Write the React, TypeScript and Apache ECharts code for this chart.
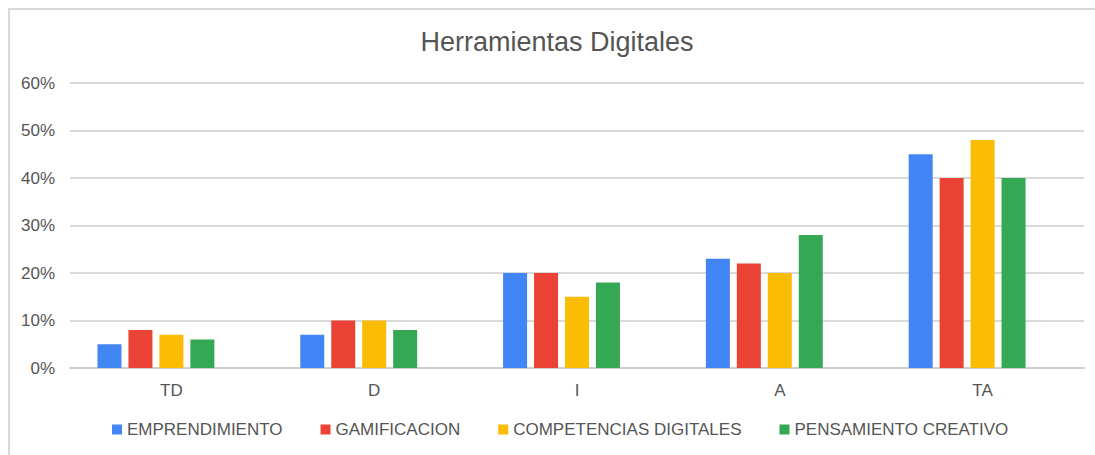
import React, { useEffect, useRef } from "react";
import * as echarts from "echarts";

const categories = ["TD", "D", "I", "A", "TA"];
const seriesNames = ["EMPRENDIMIENTO", "GAMIFICACION", "COMPETENCIAS DIGITALES", "PENSAMIENTO CREATIVO"];
const emprendimiento = [5, 7, 20, 23, 45];
const gamificacion = [8, 10, 20, 22, 40];
const competencias = [7, 10, 15, 20, 48];
const pensamiento = [6, 8, 18, 28, 40];
const emptySeries: (number | null)[] = [null, null, null, null, null];
const colors = ["#4285F4", "#EA4335", "#FBBC04", "#34A853"];
const title = "Herramientas Digitales";

export default function App() {
  const ref = useRef<HTMLDivElement>(null);
  useEffect(() => {
    if (!ref.current) return;
    const chart = echarts.init(ref.current, undefined, { renderer: "svg" });
    const font = "'Liberation Sans', Arial, sans-serif";
    const datasets = [emprendimiento, gamificacion, competencias, pensamiento];
    const series: any[] = datasets.map((d, i) => ({
      name: seriesNames[i],
      type: "bar",
      data: d,
      barWidth: 24,
      barGap: "29%",
      itemStyle: { color: colors[i] },
    }));
    series.push({
      name: "_empty",
      type: "bar",
      data: emptySeries,
      barWidth: 24,
      barGap: "29%",
      itemStyle: { color: "transparent" },
    });
    chart.setOption({
      animation: false,
      backgroundColor: "#ffffff",
      textStyle: { fontFamily: font },
      title: {
        text: title,
        left: 552,
        textAlign: "center",
        top: 23,
        textStyle: { fontSize: 27, fontWeight: "normal", color: "#555555", fontFamily: font },
      },
      legend: {
        data: seriesNames,
        left: 107,
        width: 980,
        top: 416,
        icon: "rect",
        itemWidth: 10,
        itemHeight: 10,
        itemGap: 38,
        textStyle: { fontSize: 17, color: "#555555", fontFamily: font },
      },
      grid: { left: 70, right: 11, top: 83, bottom: 87 },
      xAxis: {
        type: "category",
        data: categories,
        axisTick: { show: false },
        axisLine: { lineStyle: { color: "#d0d0d0", width: 2 } },
        axisLabel: { fontSize: 17, color: "#555555", margin: 14, fontFamily: font },
      },
      yAxis: {
        type: "value",
        min: 0,
        max: 60,
        interval: 10,
        axisLabel: { formatter: "{value}%", fontSize: 17, color: "#555555", margin: 15, fontFamily: font },
        splitLine: { lineStyle: { color: "#dadada", width: 2 } },
        axisLine: { show: false },
        axisTick: { show: false },
      },
      graphic: [
        {
          type: "rect",
          shape: { x: 9, y: 9, width: 1200, height: 600 },
          style: { fill: "none", stroke: "#d9d9d9", lineWidth: 2 },
          silent: true,
        },
      ],
      series,
    });
    return () => chart.dispose();
  }, []);
  return (
    <div
      ref={ref}
      style={{ position: "fixed", left: 0, top: 0, width: 1095, height: 455 }}
    />
  );
}
